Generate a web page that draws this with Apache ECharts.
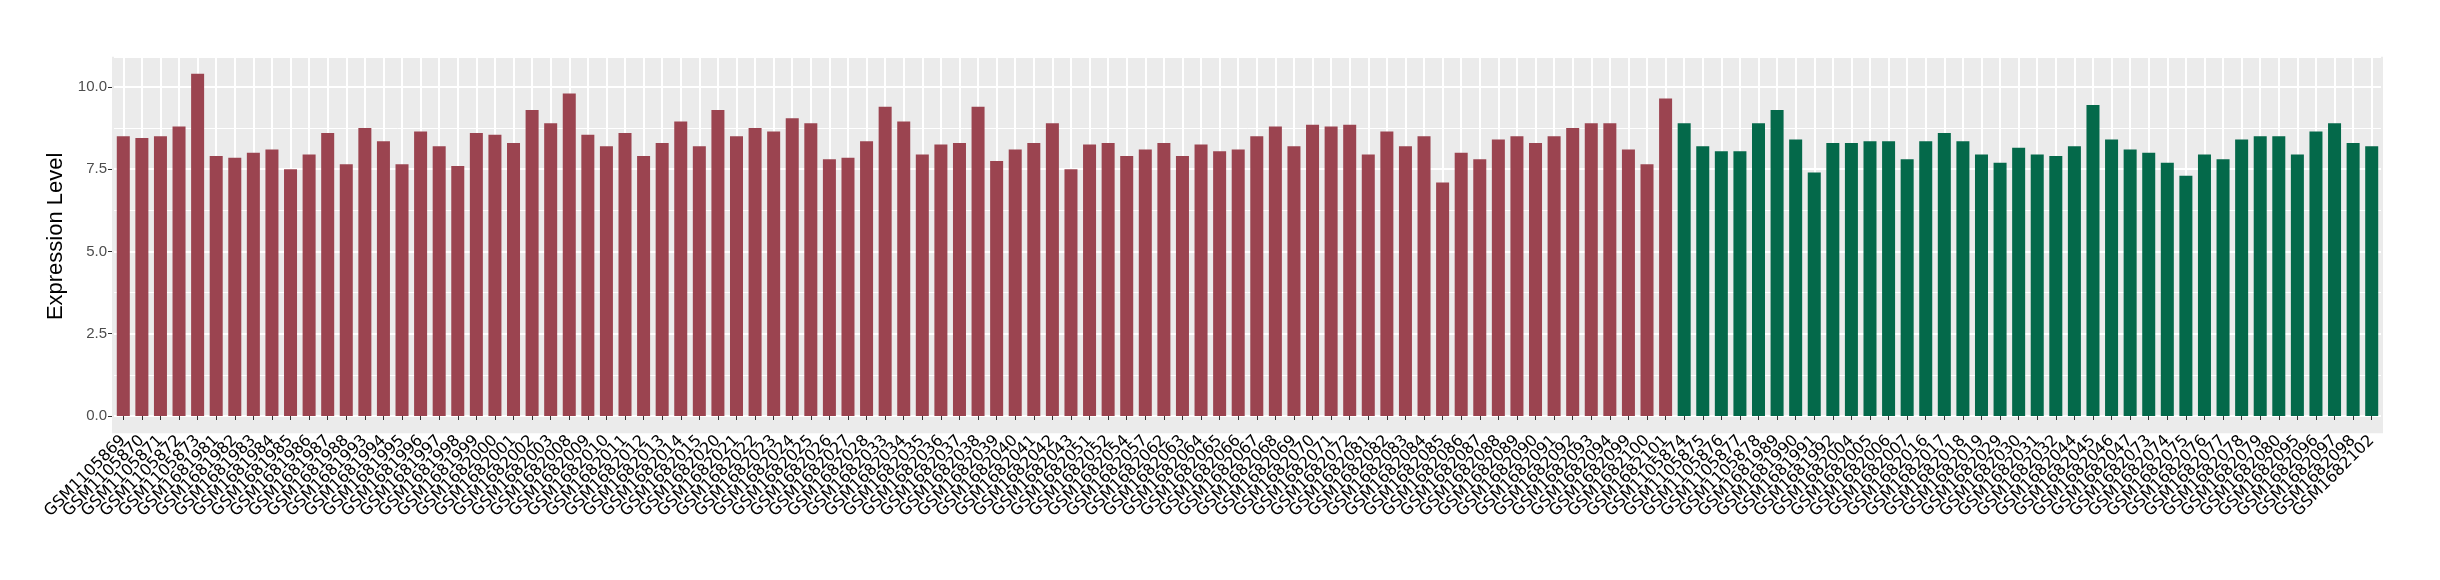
<!DOCTYPE html>
<html>
<head>
<meta charset="utf-8">
<script src="https://cdn.jsdelivr.net/npm/echarts@6/dist/echarts.min.js"></script>
<style>
  html, body { margin: 0; padding: 0; background: #fff; }
  #chart { width: 2440px; height: 580px; }
</style>
</head>
<body>
<div id="chart"></div>
<script>
// group 1 (red)
const redSamples = ['GSM1105869', 'GSM1105870', 'GSM1105871', 'GSM1105872', 'GSM1105873',
  'GSM1681981', 'GSM1681982', 'GSM1681983', 'GSM1681984', 'GSM1681985', 'GSM1681986', 'GSM1681987', 'GSM1681988',
  'GSM1681993', 'GSM1681994', 'GSM1681995', 'GSM1681996', 'GSM1681997', 'GSM1681998', 'GSM1681999',
  'GSM1682000', 'GSM1682001', 'GSM1682002', 'GSM1682003',
  'GSM1682008', 'GSM1682009', 'GSM1682010', 'GSM1682011', 'GSM1682012', 'GSM1682013', 'GSM1682014', 'GSM1682015',
  'GSM1682020', 'GSM1682021', 'GSM1682022', 'GSM1682023', 'GSM1682024', 'GSM1682025', 'GSM1682026', 'GSM1682027', 'GSM1682028',
  'GSM1682033', 'GSM1682034', 'GSM1682035', 'GSM1682036', 'GSM1682037', 'GSM1682038', 'GSM1682039', 'GSM1682040',
  'GSM1682041', 'GSM1682042', 'GSM1682043',
  'GSM1682051', 'GSM1682052', 'GSM1682054', 'GSM1682057',
  'GSM1682062', 'GSM1682063', 'GSM1682064', 'GSM1682065', 'GSM1682066', 'GSM1682067', 'GSM1682068', 'GSM1682069',
  'GSM1682070', 'GSM1682071', 'GSM1682072',
  'GSM1682081', 'GSM1682082', 'GSM1682083', 'GSM1682084', 'GSM1682085', 'GSM1682086', 'GSM1682087', 'GSM1682088',
  'GSM1682089', 'GSM1682090', 'GSM1682091', 'GSM1682092', 'GSM1682093', 'GSM1682094',
  'GSM1682099', 'GSM1682100', 'GSM1682101']
const redValues = [8.5, 8.45, 8.5, 8.8, 10.4,
  7.9, 7.85, 8.0, 8.1, 7.5, 7.95, 8.6, 7.65,
  8.75, 8.35, 7.65, 8.65, 8.2, 7.6, 8.6,
  8.55, 8.3, 9.3, 8.9,
  9.8, 8.55, 8.2, 8.6, 7.9, 8.3, 8.95, 8.2,
  9.3, 8.5, 8.75, 8.65, 9.05, 8.9, 7.8, 7.85, 8.35,
  9.4, 8.95, 7.95, 8.25, 8.3, 9.4, 7.75, 8.1,
  8.3, 8.9, 7.5,
  8.25, 8.3, 7.9, 8.1,
  8.3, 7.9, 8.25, 8.05, 8.1, 8.5, 8.8, 8.2,
  8.85, 8.8, 8.85,
  7.95, 8.65, 8.2, 8.5, 7.1, 8.0, 7.8, 8.4,
  8.5, 8.3, 8.5, 8.75, 8.9, 8.9,
  8.1, 7.65, 9.65]

// group 2 (green)
const greenSamples = ['GSM1105874', 'GSM1105875', 'GSM1105876', 'GSM1105877', 'GSM1105878',
  'GSM1681989', 'GSM1681990', 'GSM1681991', 'GSM1681992',
  'GSM1682004', 'GSM1682005', 'GSM1682006', 'GSM1682007',
  'GSM1682016', 'GSM1682017', 'GSM1682018', 'GSM1682019',
  'GSM1682029', 'GSM1682030', 'GSM1682031', 'GSM1682032',
  'GSM1682044', 'GSM1682045', 'GSM1682046', 'GSM1682047',
  'GSM1682073', 'GSM1682074', 'GSM1682075', 'GSM1682076', 'GSM1682077', 'GSM1682078', 'GSM1682079', 'GSM1682080',
  'GSM1682095', 'GSM1682096', 'GSM1682097', 'GSM1682098', 'GSM1682102']
const greenValues = [8.9, 8.2, 8.05, 8.05, 8.9,
  9.3, 8.4, 7.4, 8.3,
  8.3, 8.35, 8.35, 7.8,
  8.35, 8.6, 8.35, 7.95,
  7.7, 8.15, 7.95, 7.9,
  8.2, 9.45, 8.4, 8.1,
  8.0, 7.7, 7.3, 7.95, 7.8, 8.4, 8.5, 8.5,
  7.95, 8.65, 8.9, 8.3, 8.2]

const yTicks = [0, 2.5, 5, 7.5, 10]

const redColor = '#9B4450'
const greenColor = '#04694A'

const categories = redSamples.concat(greenSamples)
const barData = redValues.map(v => ({ value: v, itemStyle: { color: redColor } }))
  .concat(greenValues.map(v => ({ value: v, itemStyle: { color: greenColor } })))

const myChart = echarts.init(document.getElementById('chart'))

const option = {
  animation: false,
  backgroundColor: '#fff',
  grid: {
    left: 114,
    right: 59,
    top: 56.7,
    bottom: 164
  },
  // ggplot panel, a bit larger than the 0..max range
  graphic: {
    elements: [{
      type: 'rect',
      z: -10,
      silent: true,
      shape: { x: 112, y: 56.7, width: 2271, height: 376.5 },
      style: { fill: '#EBEBEB' }
    }]
  },
  xAxis: {
    type: 'category',
    data: categories,
    offset: 17,
    axisLine: { show: false },
    axisTick: { show: true, alignWithLabel: true, length: 4, lineStyle: { color: '#333', width: 1 } },
    splitLine: { show: true, alignWithLabel: true, lineStyle: { color: '#fff', width: 2 } },
    axisLabel: {
      interval: 0,
      rotate: 45,
      margin: 5,
      fontFamily: 'DejaVu Sans',
      fontSize: 16,
      color: '#000'
    }
  },
  yAxis: {
    type: 'value',
    min: 0,
    max: 10.92,
    interval: 2.5,
    offset: 2,
    name: 'Expression Level',
    nameLocation: 'middle',
    nameGap: 36,
    nameTextStyle: { fontFamily: 'Liberation Sans', fontSize: 22, color: '#000' },
    axisLine: { show: false },
    axisTick: { show: true, length: 4, lineStyle: { color: '#333', width: 1 } },
    axisLabel: {
      margin: 5,
      fontFamily: 'Liberation Sans',
      fontSize: 15,
      color: '#4D4D4D',
      showMaxLabel: false,
      formatter: v => yTicks.indexOf(v) >= 0 ? v.toFixed(1) : ''
    },
    splitLine: { show: true, lineStyle: { color: '#fff', width: 2 } },
    minorTick: { show: false, splitNumber: 2 },
    minorSplitLine: { show: true, lineStyle: { color: '#fff', width: 1 } }
  },
  series: [{
    type: 'bar',
    data: barData,
    barWidth: '70%'
  }]
}

myChart.setOption(option)
</script>
</body>
</html>
